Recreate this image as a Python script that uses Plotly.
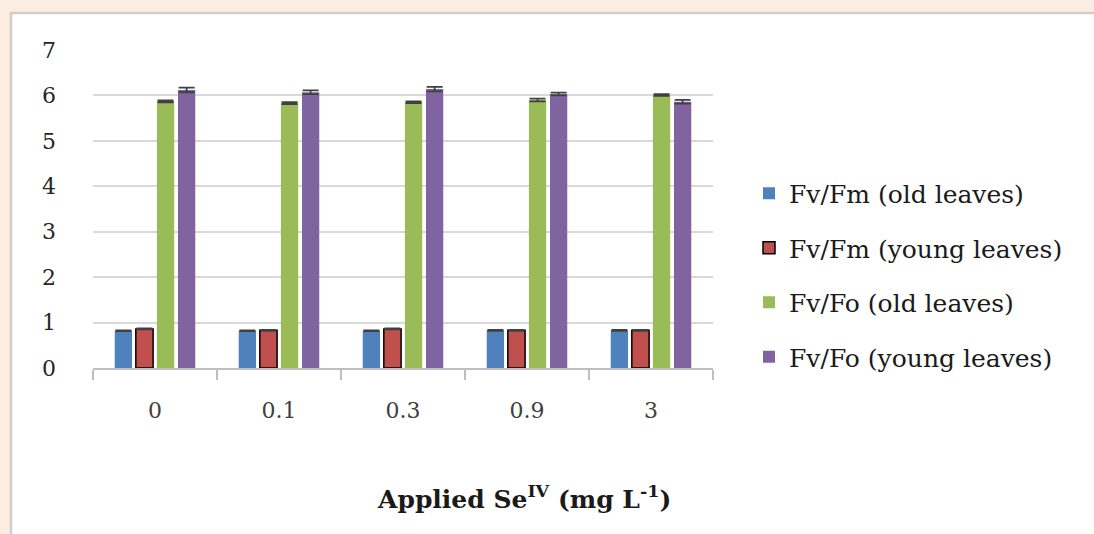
import plotly.graph_objects as go

categories = ["0", "0.1", "0.3", "0.9", "3"]
fvfm_old = [0.82, 0.82, 0.82, 0.83, 0.83]
fvfm_young = [0.86, 0.83, 0.86, 0.83, 0.83]
fvfo_old = [5.87, 5.83, 5.85, 5.90, 6.01]
fvfo_young = [6.12, 6.07, 6.14, 6.03, 5.86]
err_fvfm_old = [0.01, 0.01, 0.01, 0.01, 0.01]
err_fvfm_young = [0.01, 0.01, 0.01, 0.01, 0.01]
err_fvfo_old = [0.02, 0.02, 0.02, 0.03, 0.02]
err_fvfo_young = [0.05, 0.04, 0.05, 0.03, 0.04]

names = ["Fv/Fm (old leaves)", "Fv/Fm (young leaves)", "Fv/Fo (old leaves)", "Fv/Fo (young leaves)"]
colors = ["#4F81BD", "#C0504D", "#9BBB59", "#8064A2"]
outlines = ["#4F81BD", "#000000", "#9BBB59", "#8064A2"]
outline_w = [0, 1.5, 0, 0]
series = [fvfm_old, fvfm_young, fvfo_old, fvfo_young]
errors = [err_fvfm_old, err_fvfm_young, err_fvfo_old, err_fvfo_young]
x_title = "<b>Applied Se<sup>IV</sup> (mg L<sup>-1</sup>)</b>"

FONT = "DejaVu Serif"

fig = go.Figure()
for i in range(4):
    fig.add_trace(go.Bar(
        x=categories, y=series[i], name=names[i],
        marker=dict(color=colors[i], line=dict(color=outlines[i], width=outline_w[i])),
        error_y=dict(type="data", array=errors[i], color="#404040", thickness=1.8, width=8),
        legendgroup=str(i),
    ))

L, R, T, B = 93, 713, 50, 368
W, H = 1094, 534
pw = R - L
ph = B - T

fig.add_shape(type="rect", xref="paper", yref="paper",
              x0=(11 - L) / pw, x1=(1110 - L) / pw,
              y0=(B - 560) / ph, y1=(B - 13) / ph,
              fillcolor="white", line=dict(color="#D6CCC6", width=2.5), layer="below")

fig.add_annotation(text=x_title, xref="paper", yref="paper",
                   x=(524 - L) / pw, y=(B - 497) / ph, xanchor="center", yanchor="middle",
                   showarrow=False, font=dict(family=FONT, size=25, color="#1a1a1a"))

fig.update_layout(
    width=W, height=H,
    margin=dict(l=L, r=W - R, t=T, b=H - B),
    paper_bgcolor="#FCEDE3",
    plot_bgcolor="white",
    barmode="group",
    bargap=0.32,
    bargroupgap=0.18,
    font=dict(family=FONT, color="#404040", size=20),
    showlegend=True,
    legend=dict(
        x=(749 - L) / pw, xanchor="left",
        y=(B - 275) / ph, yanchor="middle",
        font=dict(family=FONT, size=25, color="#1a1a1a"),
        tracegroupgap=19,
        bgcolor="rgba(0,0,0,0)",
    ),
    xaxis=dict(
        showgrid=False, showline=True, linecolor="#BFBFBF", linewidth=1.5,
        ticks="outside", tickson="boundaries", ticklen=10, tickcolor="#BFBFBF", tickwidth=1.5,
        ticklabelstandoff=22,
        tickfont=dict(family=FONT, size=22, color="#404040"),
    ),
    yaxis=dict(
        range=[0, 7], dtick=1, showgrid=True, gridcolor="#D9D9D9", gridwidth=1.5,
        zeroline=False, showline=False, ticks="",
        ticklabelstandoff=36,
        tickfont=dict(family=FONT, size=22, color="#262626"),
    ),
)

fig.write_html("out.html", config={"displayModeBar": False},
               post_script="document.body.style.margin='0';document.body.style.background='#FCEDE3';")
